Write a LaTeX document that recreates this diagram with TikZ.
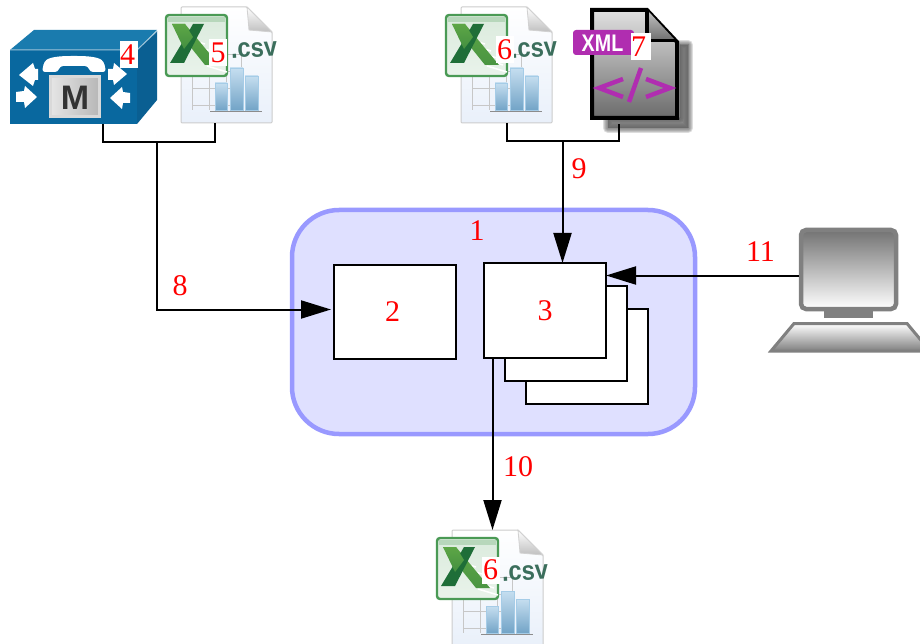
\documentclass[tikz,border=0pt]{standalone}
\usepackage{fontspec}
\setmainfont{Liberation Serif}
\newfontfamily\iconsans{Liberation Sans}
\usetikzlibrary{arrows.meta,calc,positioning}
\definecolor{regionfill}{HTML}{DFE0FF}
\definecolor{regionline}{HTML}{9999FF}
\definecolor{ciscoblue}{HTML}{09689F}
\definecolor{ciscotop}{HTML}{1A7BAE}
\definecolor{ciscoside}{HTML}{0A5F92}
\definecolor{xmlpurple}{HTML}{B02DB0}
\definecolor{csvgreen}{HTML}{3B6E5C}
\definecolor{xlgreen}{HTML}{4A9A55}
\definecolor{xlarm}{HTML}{5DA646}
\definecolor{xldark}{HTML}{1F6E38}
\definecolor{barblue}{HTML}{7FB6DD}
\definecolor{sheetblue}{HTML}{E9F0FA}
\tikzset{
  x=1pt,y=-1pt,
  wire/.style={draw=black,line width=2pt},
  flow/.style={wire,-{Triangle[length=30pt,width=18pt]}},
  procbox/.style={draw=black,fill=white,line width=2pt,outer sep=0pt,minimum width=122pt,minimum height=95pt,anchor=north west,inner sep=0pt,font=\fontsize{30}{30}\selectfont,text=red},
  numlabel/.style={text=red,font=\fontsize{30}{30}\selectfont,inner sep=0pt},
  tag/.style={numlabel,fill=white,minimum width=18pt,minimum height=27pt},
  iconarea/.style={minimum width=#1,inner sep=0pt,outer sep=0pt,anchor=north west,draw=none},
  arrowshape/.style={fill=white,draw=none},
  pics/csvicon/.style={code={
    % sheet
    \path[draw=black!20,line width=1pt,top color=white,bottom color=sheetblue,rounded corners=1pt]
      (0,0) -- (66,0) -- (91,25) -- (91,116) -- (0,116) -- cycle;
    \path[top color=white,bottom color=black!25,draw=black!18,line width=.8pt] (66,0) -- (68,23) -- (91,25) -- cycle;
    % grid
    \foreach \yy in {47,64,81,98} \draw[black!22,line width=.7pt] (11,\yy) -- (60,\yy);
    \foreach \xx in {11,28,45,60} \draw[black!22,line width=.7pt] (\xx,38) -- (\xx,103);
    % bars
    \foreach \xa/\xb/\yt in {34/46/76,49/62/61,64/77/69}
      \path[top color=barblue!45!white,bottom color=barblue!90!black,draw=barblue!70!white,line width=.5pt] (\xa,\yt) rectangle (\xb,103);
    \draw[black!45,line width=.9pt] (29,104) -- (81,104);
    % excel square
    \path[draw=xlgreen,line width=2.4pt,top color=white!80!xlgreen,bottom color=white!88!xlgreen,rounded corners=3pt] (-15,8) -- (46,8) -- (46,69) -- (-15,69) -- cycle;
    \fill[white!60!xlgreen] (-13,10) -- (44,10) -- (44,15) -- (-13,15) -- cycle;
    \foreach \yy/\xx in {34/24,41/30,48/36,55/42,62/46}
      \draw[white,line width=1.5pt] (\xx-20,\yy-3) -- (\xx,\yy+3);
    \path[top color=xlarm,bottom color=xlarm!70!xldark] (-9,17) -- (4,17) -- (38,58) -- (24,58) -- cycle;
    \fill[xldark] (-11,56) -- (3,56) -- (23,17) -- (12,17) -- (1,36) -- cycle;
    \path[top color=xlarm,bottom color=xlarm!60!xldark] (-9,17) -- (4,17) -- (12,30) -- (3,42) -- cycle;
    % extension
    \node[rotate=3,xscale=.88,text=csvgreen,font=\iconsans\bfseries\fontsize{27}{27}\selectfont,inner sep=0pt] at (73,43) {.csv};
  }},
}
\begin{document}
\begin{tikzpicture}
\clip (0,0) rectangle (920,644);
\fill[white] (0,0) rectangle (920,644);
% region and processing boxes
\node[draw=regionline,fill=regionfill,line width=4.5pt,outer sep=0pt,rounded corners=47pt,minimum width=403pt,minimum height=224pt,anchor=north west,inner sep=0pt] (region) at (292,210) {};
\node[procbox,minimum height=94pt] (box2) at (334,265) {\kern-5pt 2};
\node[procbox] (back2) at (526,309) {};
\node[procbox] (back1) at (505,286) {};
\node[procbox] (box3) at (484,263) {3};

% phone icon
\node[iconarea=147pt,minimum height=94pt] (phone) at (10,30) {};
\fill[ciscotop] (10,50) -- (34,30) -- (157,30) -- (137,50) -- cycle;
\fill[ciscoside] (137,50) -- (157,31) -- (157,100) -- (137,124) -- cycle;
\fill[ciscoblue] (10,50) rectangle (137,124);
\draw[white!60!ciscoblue,line width=1pt] (10,50) -- (137,50) -- (157,31);
\fill[white,rounded corners=3pt] (42,72) -- (44,62) .. controls (50,57) and (60,56) .. (74,56) .. controls (88,56) and (98,57) .. (104,62) -- (106,72) -- (90,72) -- (88,66) -- (60,66) -- (58,72) -- cycle;
\path[left color=black!10,right color=black!28,draw=white!85!black,line width=3pt] (50,77) rectangle (99,117);
\node[text=black!80,font=\iconsans\bfseries\fontsize{34}{34}\selectfont,inner sep=0pt] (phonem) at (75,98) {M};
\fill[arrowshape] (19,75) -- (33,63) -- (35,69) -- (38,69) -- (38,80) -- (35,80) -- (33,86) -- cycle;
\fill[arrowshape] (37,97) -- (25,86) -- (24,91) -- (16,92) -- (16,102) -- (24,102) -- (25,108) -- cycle;
\fill[arrowshape] (127,74) -- (114,63) -- (113,69) -- (108,69) -- (108,80) -- (113,80) -- (114,85) -- cycle;
\fill[arrowshape] (110,98) -- (122,87) -- (123,92) -- (130,93) -- (130,103) -- (123,103) -- (122,109) -- cycle;

% csv icons
\node[iconarea=107pt,minimum height=116pt] (csvA) at (165,7) {};
\pic at (181,7) {csvicon};
\node[iconarea=107pt,minimum height=116pt] (csvB) at (444,7) {};
\pic at (461,7) {csvicon};
\node[iconarea=107pt,minimum height=114pt] (csvC) at (435,530) {};
\pic at (452,530) {csvicon};

% xml icon
\node[iconarea=87pt,minimum height=110pt] (xml) at (590,10) {};
\foreach \gw in {10,8,6,4,2,0}
  \fill[black!60,opacity=.22,draw=black!60,line width=\gw pt,line join=round] (608,118) -- (608,128) -- (688,128) -- (688,45) -- (680,45) -- (680,118) -- cycle;
\path[top color=black!12,bottom color=black!58,draw=black,line width=4pt,line join=miter] (592,10) -- (647,10) -- (677,42) -- (677,118) -- (592,118) -- cycle;
\path[top color=black!25,bottom color=black!55] (649,12) -- (649,39) -- (674,39) -- cycle;
\draw[black,line width=3.5pt] (647,10) -- (647,40.5) -- (677,40.5);
\draw[xmlpurple,line width=4.5pt,line join=miter] (623,79) -- (599,88) -- (623,97);
\draw[xmlpurple,line width=4.5pt] (641,68) -- (629,102);
\draw[xmlpurple,line width=4.5pt,line join=miter] (646,79) -- (670,88) -- (646,97);
\node[fill=xmlpurple,rounded corners=3pt,minimum width=61pt,minimum height=25pt,inner sep=0pt,outer sep=0pt] (xmlbadge) at (603.5,42.5) {};
\node[xscale=.82,text=white,inner sep=0pt,font=\iconsans\bfseries\fontsize{24}{24}\selectfont] (xmltext) at (602.5,43) {XML};

% computer icon
\path[top color=black!55,bottom color=white,draw=black!50,line width=4.5pt,rounded corners=5pt] (801,230) rectangle (896,309);
\fill[black!50] (824,310) rectangle (873,318);
\path[top color=white,bottom color=black!50,draw=black!50,line width=3pt,line join=miter] (794,323.5) -- (907,323.5) -- (930,351) -- (771,351) -- cycle;
\node[iconarea=100pt,minimum height=82pt] (monitor) at (799,228) {};

% connectors
\coordinate (joinA) at (157,142);
\coordinate (joinB) at (562.5,141);
\draw[wire] ([xshift=19.5pt]phone.south) -- ++(0,18) -| ([xshift=-3.5pt]csvA.south);
\draw[flow] (joinA) |- ([xshift=-3pt,yshift=2.5pt]box2.west);
\draw[wire] ([xshift=9.5pt]csvB.south) -- ++(0,18) -| ([xshift=-14.5pt]xml.south |- phone.south);
\draw[flow] (joinB) -- (joinB |- box3.north);
\draw[flow] ([yshift=-6.5pt]monitor.west) -- ([yshift=35pt]box3.east);
\draw[flow] ([xshift=-52.5pt]box3.south) -- ([xshift=-52.5pt]box3.south |- csvC.north);

% labels
\node[numlabel] (lab1) at (477,231) {1};
\node[numlabel] (lab8) at (180,286) {8};
\node[numlabel] (lab9) at (579,169) {9};
\node[numlabel] (lab10) at (518,467) {10};
\node[numlabel] (lab11) at (760.5,252) {11};
\node[tag,align=left,text width=18pt] (lab4) at (129,55) {4};
\node[tag] (lab5) at (218,52.5) {5};
\node[tag] (lab6a) at (504.5,50) {6};
\node[tag,align=left,text width=20pt] (lab7) at (641,47) {7};
\node[tag] (lab6b) at (490.5,570) {6};
\end{tikzpicture}
\end{document}
